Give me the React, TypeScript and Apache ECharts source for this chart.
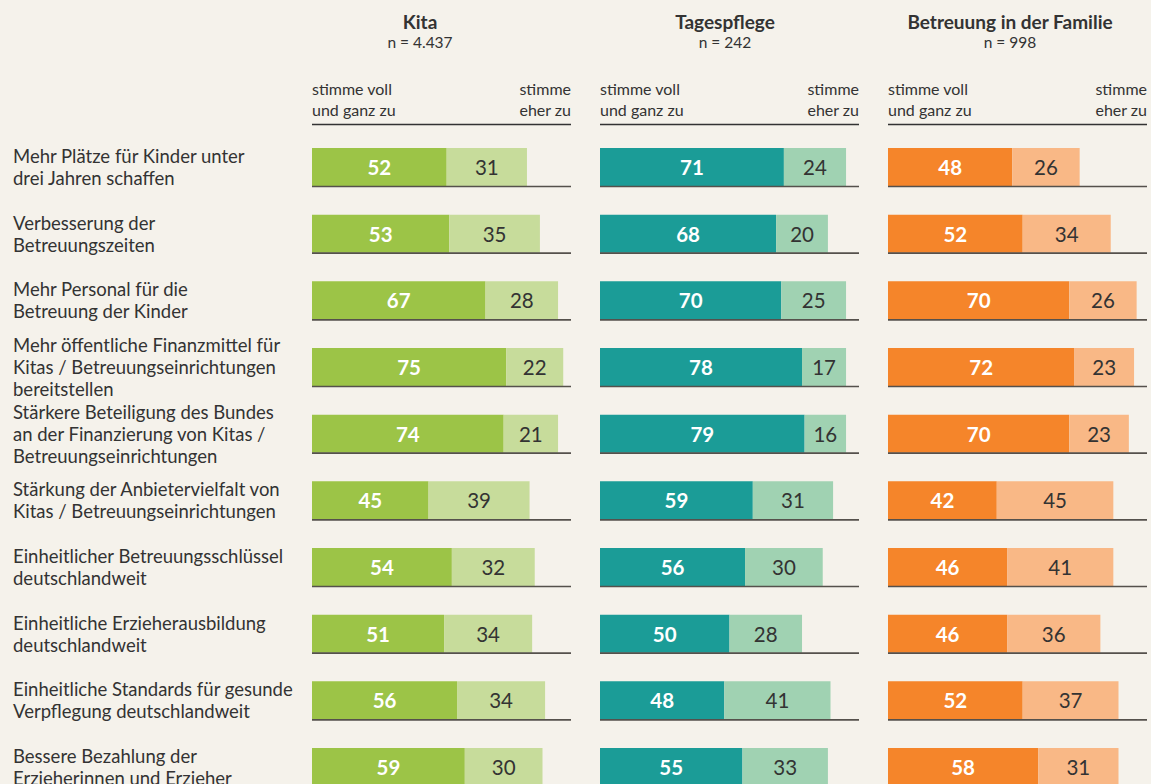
import React, { useEffect, useRef } from "react";
import * as echarts from "echarts";

const categories = [
  "Mehr Plätze für Kinder unter\ndrei Jahren schaffen",
  "Verbesserung der\nBetreuungszeiten",
  "Mehr Personal für die\nBetreuung der Kinder",
  "Mehr öffentliche Finanzmittel für\nKitas / Betreuungseinrichtungen\nbereitstellen",
  "Stärkere Beteiligung des Bundes\nan der Finanzierung von Kitas /\nBetreuungseinrichtungen",
  "Stärkung der Anbietervielfalt von\nKitas / Betreuungseinrichtungen",
  "Einheitlicher Betreuungsschlüssel\ndeutschlandweit",
  "Einheitliche Erzieherausbildung\ndeutschlandweit",
  "Einheitliche Standards für gesunde\nVerpflegung deutschlandweit",
  "Bessere Bezahlung der\nErzieherinnen und Erzieher",
];

const panelTitles = ["Kita", "Tagespflege", "Betreuung in der Familie"];
const panelN = ["n = 4.437", "n = 242", "n = 998"];
const legendLeft = "stimme voll\nund ganz zu";
const legendRight = "stimme\neher zu";

const kitaVoll = [52, 53, 67, 75, 74, 45, 54, 51, 56, 59];
const kitaEher = [31, 35, 28, 22, 21, 39, 32, 34, 34, 30];
const tagesVoll = [71, 68, 70, 78, 79, 59, 56, 50, 48, 55];
const tagesEher = [24, 20, 25, 17, 16, 31, 30, 28, 41, 33];
const familieVoll = [48, 52, 70, 72, 70, 42, 46, 46, 52, 58];
const familieEher = [26, 34, 26, 23, 23, 45, 41, 36, 37, 31];

const panelData = [
  [kitaVoll, kitaEher],
  [tagesVoll, tagesEher],
  [familieVoll, familieEher],
];
const darkColors = ["#9cc447", "#1b9c97", "#f5852a"];
const lightColors = ["#c7dc9b", "#a0d2b2", "#f9b886"];

const FONT = "Lato, 'Noto Sans', sans-serif";
const TEXT = "#333333";
const BG = "#f5f2eb";

const panelLeft = [312, 600, 888];
const panelWidth = 259;
const titleCenter = [420, 725, 1010];
const gridTop = 133.67;
const gridHeight = 666.67;

export default function App() {
  const ref = useRef<HTMLDivElement>(null);

  useEffect(() => {
    if (!ref.current) return;
    const chart = echarts.init(ref.current, undefined, { renderer: "svg" });

    const grids: any[] = [];
    const xAxes: any[] = [];
    const yAxes: any[] = [];
    const series: any[] = [];
    const graphics: any[] = [];

    panelData.forEach((pd, i) => {
      grids.push({ left: panelLeft[i], width: panelWidth, top: gridTop, height: gridHeight });
      xAxes.push({
        gridIndex: i,
        type: "value",
        min: 0,
        max: 100,
        show: false,
      });
      yAxes.push({
        gridIndex: i,
        type: "category",
        data: categories,
        inverse: true,
        axisLine: { show: false },
        axisTick: { show: false },
        splitLine: { show: false },
        axisLabel:
          i === 0
            ? {
                show: true,
                align: "left",
                margin: panelLeft[0] - 13,
                fontSize: 18.5,
                lineHeight: 22,
                color: TEXT,
                fontFamily: FONT,
              }
            : { show: false },
      });
      series.push({
        type: "bar",
        xAxisIndex: i,
        yAxisIndex: i,
        stack: "s" + i,
        data: pd[0],
        barWidth: 38,
        itemStyle: { color: darkColors[i] },
        label: {
          show: true,
          position: "inside",
          color: "#ffffff",
          fontWeight: "bold",
          fontSize: 20.5,
          fontFamily: FONT,
        },
      });
      series.push({
        type: "bar",
        xAxisIndex: i,
        yAxisIndex: i,
        stack: "s" + i,
        data: pd[1],
        barWidth: 38,
        itemStyle: { color: lightColors[i] },
        label: {
          show: true,
          position: "inside",
          color: TEXT,
          fontSize: 20.5,
          fontFamily: FONT,
        },
      });
      series.push({
        type: "custom",
        xAxisIndex: i,
        yAxisIndex: i,
        z: 5,
        silent: true,
        data: categories.map((_, k) => [0, k]),
        encode: { x: 0, y: 1 },
        renderItem: (params: any, api: any) => {
          const idx = api.value(1);
          const a = api.coord([0, idx]);
          const b = api.coord([100, idx]);
          const y = a[1] + 19.5;
          return {
            type: "line",
            shape: { x1: a[0], y1: y, x2: b[0], y2: y },
            style: { stroke: "#55514c", lineWidth: 1.6 },
          };
        },
      });

      // header texts
      graphics.push({
        type: "text",
        x: titleCenter[i],
        y: 12,
        style: {
          text: panelTitles[i],
          textAlign: "center",
          fontSize: 19,
          fontWeight: "bold",
          fontFamily: FONT,
          fill: TEXT,
        },
      });
      graphics.push({
        type: "text",
        x: titleCenter[i],
        y: 34,
        style: {
          text: panelN[i],
          textAlign: "center",
          fontSize: 15.5,
          fontFamily: FONT,
          fill: TEXT,
        },
      });
      graphics.push({
        type: "text",
        x: panelLeft[i],
        y: 78,
        style: {
          text: legendLeft,
          textAlign: "left",
          fontSize: 16,
          lineHeight: 21,
          fontFamily: FONT,
          fill: TEXT,
        },
      });
      graphics.push({
        type: "text",
        x: panelLeft[i] + panelWidth,
        y: 78,
        style: {
          text: legendRight,
          textAlign: "right",
          fontSize: 16,
          lineHeight: 21,
          fontFamily: FONT,
          fill: TEXT,
        },
      });
      graphics.push({
        type: "line",
        shape: { x1: panelLeft[i], y1: 124.5, x2: panelLeft[i] + panelWidth, y2: 124.5 },
        style: { stroke: "#333333", lineWidth: 1.6 },
      });
    });

    chart.setOption({
      animation: false,
      backgroundColor: BG,
      grid: grids,
      xAxis: xAxes,
      yAxis: yAxes,
      series,
      graphic: graphics,
    });

    return () => chart.dispose();
  }, []);

  return (
    <div
      style={{
        position: "absolute",
        left: 0,
        top: 0,
        width: 1151,
        height: 784,
        overflow: "hidden",
        background: BG,
      }}
    >
      <div ref={ref} style={{ width: 1151, height: 801 }} />
    </div>
  );
}
